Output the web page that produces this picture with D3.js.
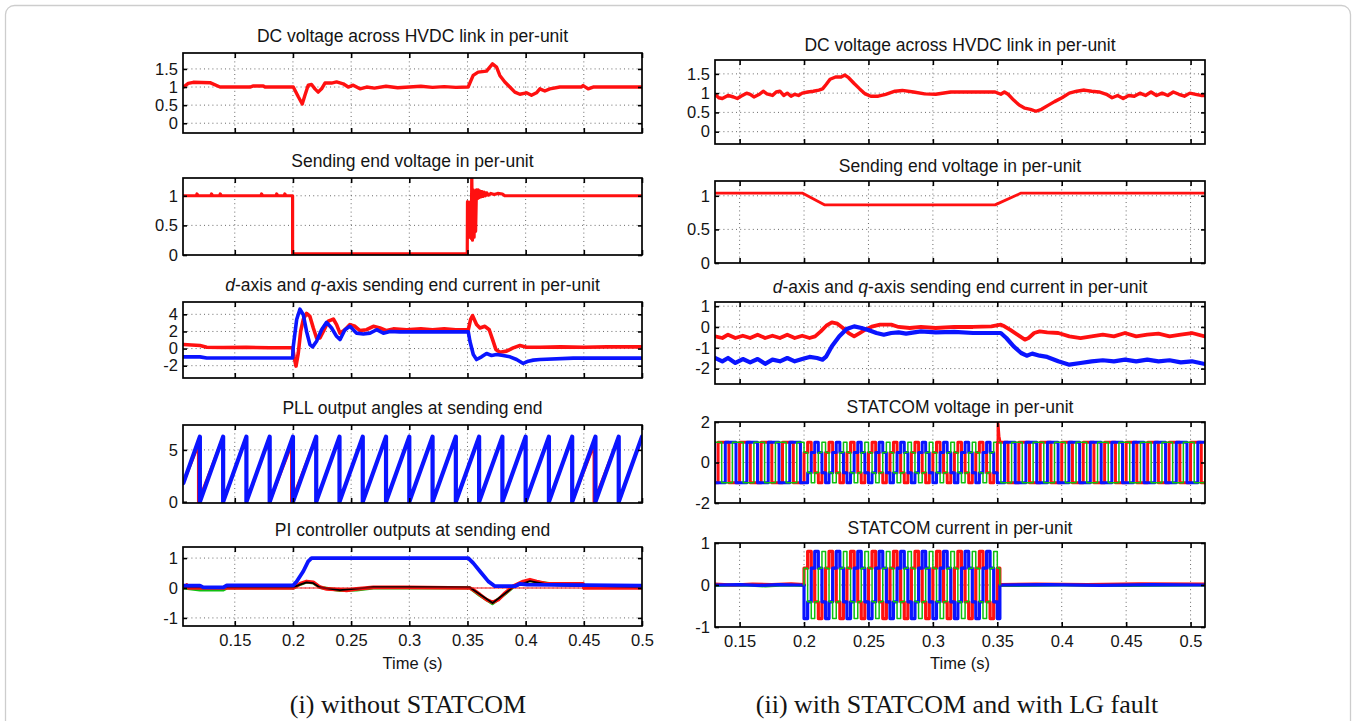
<!DOCTYPE html>
<html lang="en">
<head>
<meta charset="UTF-8">
<title>HVDC sending end waveforms</title>
<script src="https://cdn.jsdelivr.net/npm/d3@7/dist/d3.min.js"></script>
<style>
  body { margin: 0; background: #fff; }
  svg text { font-family: "Liberation Sans", Arial, Helvetica, sans-serif; fill: #141414; }
  svg text.cap { font-family: "Liberation Serif", "Times New Roman", serif; }
  .grid { stroke: #6a6a6a; stroke-width: 1; stroke-dasharray: 1 3.2; }
</style>
</head>
<body>
<script>
// ---------------- data ----------------
const xTicks = [0.15, 0.2, 0.25, 0.3, 0.35, 0.4, 0.45, 0.5];
const xTickLabels = ["0.15", "0.2", "0.25", "0.3", "0.35", "0.4", "0.45", "0.5"];

const titlesLeft = [
  "DC voltage across HVDC link in per-unit",
  "Sending end voltage in per-unit",
  "d-axis and q-axis sending end current in per-unit",
  "PLL output angles at sending end",
  "PI controller outputs at sending end"
];
const titlesRight = [
  "DC voltage across HVDC link in per-unit",
  "Sending end voltage in per-unit",
  "d-axis and q-axis sending end current in per-unit",
  "STATCOM voltage in per-unit",
  "STATCOM current in per-unit"
];
const captions = ["(i) without STATCOM", "(ii) with STATCOM and with LG fault"];
const xLabel = "Time (s)";

const yTicksLeft = [[0, 0.5, 1, 1.5], [0, 0.5, 1], [-2, 0, 2, 4], [0, 5], [-1, 0, 1]];
const yTicksRight = [[0, 0.5, 1, 1.5], [0, 0.5, 1], [-2, -1, 0, 1], [-2, 0, 2], [-1, 0, 1]];

// (i) DC voltage
const dcLeft = [[0.1058,1.00],[0.1100,1.10],[0.1143,1.13],[0.1287,1.12],[0.1373,1.00],[0.1631,1.00],[0.1660,1.03],[0.1674,1.03],[0.1745,1.03],[0.1760,1.00],
  [0.2003,1.00],[0.2046,0.73],[0.2080,0.53],[0.2103,0.77],[0.2131,1.05],[0.2160,1.07],[0.2189,0.95],[0.2217,0.86],[0.2246,0.95],[0.2275,1.11],
  [0.2332,1.11],[0.2375,1.14],[0.2432,1.09],[0.2475,1.00],[0.2518,1.05],[0.2576,0.95],[0.2633,1.00],[0.2700,0.97],[0.2800,1.02],[0.2900,0.98],
  [0.3000,1.00],[0.3100,1.02],[0.3200,0.99],[0.3300,1.01],[0.3400,0.99],[0.3506,1.00],[0.3549,1.32],[0.3592,1.41],[0.3664,1.44],[0.3692,1.55],
  [0.3715,1.64],[0.3750,1.55],[0.3778,1.32],[0.3821,1.14],[0.3864,1.00],[0.3907,0.86],[0.3950,0.80],[0.4007,0.84],[0.4050,0.77],[0.4093,0.84],
  [0.4122,0.95],[0.4165,0.89],[0.4208,0.95],[0.4294,1.00],[0.4480,1.00],[0.4494,1.04],[0.4537,0.95],[0.4580,1.00],[0.4995,1.00]];

// (i) sending end voltage
const sendLeft = [[0.1058,1.0],[0.1170,1.0],[0.1175,1.03],[0.1185,1.0],[0.1295,1.0],[0.1300,1.03],[0.1310,1.0],[0.1370,1.0],[0.1375,1.03],[0.1385,1.0],
  [0.1725,1.0],[0.1730,1.03],[0.1740,1.0],[0.1855,1.0],[0.1860,1.03],[0.1870,1.0],[0.1925,1.0],[0.1930,1.03],[0.1940,1.0],[0.1997,1.0],[0.1997,0.02],
  [0.3498,0.02],[0.3500,0.90],[0.3507,0.35],[0.3513,0.88],[0.3520,0.30],[0.3527,0.90],[0.3533,0.28],[0.3537,1.40],[0.3543,0.25],[0.3550,1.10],
  [0.3557,0.30],[0.3563,1.05],[0.3570,0.40],[0.3577,1.10],[0.3585,0.95],[0.3592,1.10],[0.3600,0.97],[0.3608,1.08],[0.3616,0.98],[0.3625,1.07],
  [0.3635,0.99],[0.3645,1.06],[0.3655,1.00],[0.3665,1.05],[0.3680,1.01],[0.3700,1.04],[0.3730,1.02],[0.3760,1.04],[0.3800,1.03],[0.3820,1.00],[0.5000,1.00]];

// (i) d-axis (red) and q-axis (blue) current
const idLeft = [[0.1058,0.47],[0.1201,0.35],[0.1259,0.15],[0.1400,0.12],[0.1600,0.14],[0.1800,0.10],[0.1997,0.10],[0.2009,-0.9],[0.2026,-2.05],[0.2046,-0.5],
  [0.2066,2.0],[0.2089,3.4],[0.2117,4.1],[0.2146,3.76],[0.2175,2.4],[0.2203,1.24],[0.2232,1.24],[0.2261,2.0],[0.2304,3.2],[0.2347,3.45],
  [0.2375,2.8],[0.2404,1.8],[0.2447,2.2],[0.2490,2.8],[0.2533,2.6],[0.2576,2.1],[0.2633,2.2],[0.2691,2.6],[0.2748,2.4],[0.2805,2.1],
  [0.2863,2.3],[0.2977,2.2],[0.3100,2.3],[0.3200,2.2],[0.3300,2.3],[0.3400,2.2],[0.3507,2.2],[0.3527,3.4],[0.3544,3.84],[0.3578,2.8],
  [0.3607,2.4],[0.3650,2.6],[0.3687,2.2],[0.3716,1.05],[0.3744,-0.1],[0.3779,-0.43],[0.3836,-0.3],[0.3893,0.08],[0.3951,0.35],[0.4008,0.15],
  [0.4123,0.15],[0.4300,0.2],[0.4500,0.15],[0.4700,0.2],[0.4996,0.2]];
const iqLeft = [[0.1058,-0.97],[0.1201,-0.97],[0.1259,-1.1],[0.1997,-1.1],[0.2003,0.27],[0.2032,3.4],[0.2060,4.6],[0.2089,3.95],[0.2117,2.0],[0.2146,0.46],
  [0.2169,0.2],[0.2203,0.85],[0.2246,2.2],[0.2289,3.06],[0.2332,2.4],[0.2375,1.43],[0.2404,1.05],[0.2447,2.2],[0.2490,2.6],[0.2547,1.8],
  [0.2605,1.7],[0.2662,1.8],[0.2719,2.2],[0.2777,1.8],[0.2834,2.0],[0.2920,1.95],[0.3507,1.95],[0.3521,0.85],[0.3550,-0.7],[0.3578,-1.28],
  [0.3621,-0.97],[0.3664,-0.58],[0.3707,-0.81],[0.3750,-0.7],[0.3807,-0.81],[0.3865,-0.97],[0.3922,-1.28],[0.3979,-1.74],[0.4023,-1.47],[0.4066,-1.35],
  [0.4123,-1.28],[0.4409,-1.12],[0.4996,-1.12]];

// (i) PLL angle: wrap instants, start / end samples
const pllWraps = [0.12, 0.14, 0.16, 0.18, 0.20, 0.22, 0.24, 0.26, 0.28, 0.30, 0.32, 0.34, 0.36, 0.38, 0.40, 0.42, 0.44, 0.46, 0.48];
const pllTop = 6.28;
const pllFirst = [0.1058, 1.8];
const pllLast = [0.5, 6.28];
const pllRedWraps = [0.1186, 0.1986, 0.4586];
const pllRedTop = 5.4;

// (i) PI controller outputs
const piBlue = [[0.1058,0.08],[0.1201,0.08],[0.1230,0.02],[0.1402,0.02],[0.1431,0.09],[0.2003,0.09],[0.2032,0.22],[0.2089,0.56],[0.2131,0.89],[0.2160,1.0],
  [0.3507,1.0],[0.3550,0.83],[0.3607,0.56],[0.3679,0.22],[0.3736,0.06],[0.3908,0.06],[0.3951,0.14],[0.4008,0.11],[0.4996,0.08]];
const piRed = [[0.1058,0.0],[0.1087,0.1],[0.1100,0.0],[0.2003,0.0],[0.2060,0.14],[0.2117,0.22],[0.2175,0.19],[0.2232,0.03],[0.2289,-0.03],[0.2404,-0.06],
  [0.2461,-0.08],[0.2547,-0.03],[0.2691,0.02],[0.2977,0.02],[0.3521,0.0],[0.3550,-0.06],[0.3607,-0.22],[0.3664,-0.39],[0.3716,-0.48],[0.3765,-0.39],
  [0.3822,-0.17],[0.3893,0.06],[0.3979,0.22],[0.4037,0.28],[0.4094,0.22],[0.4180,0.14],[0.4495,0.14],[0.4501,0.0],[0.4996,0.0]];
const piGreen = [[0.1058,0.0],[0.1201,-0.06],[0.1402,-0.06],[0.1431,0.0],[0.2003,0.0],[0.2060,0.12],[0.2117,0.2],[0.2175,0.17],[0.2232,0.02],[0.2404,-0.08],
  [0.2547,-0.06],[0.2691,0.0],[0.3521,0.0],[0.3607,-0.25],[0.3716,-0.52],[0.3822,-0.2],[0.3893,0.03],[0.3979,0.2],[0.4037,0.25],[0.4123,0.19],[0.4266,0.11],[0.4996,0.03]];
const piBlack = [[0.1058,0.02],[0.2003,0.02],[0.2060,0.11],[0.2117,0.19],[0.2175,0.16],[0.2232,0.02],[0.2404,-0.07],[0.2691,0.03],[0.3091,0.03],[0.3521,0.02],
  [0.3716,-0.5],[0.3893,0.03],[0.4037,0.23],[0.4209,0.1],[0.4495,0.08],[0.4996,0.02]];
const piRef = [[0.1058,0.0],[0.4996,0.0]];

// (ii) DC voltage
const dcRight = [[0.1309,0.97],[0.1338,0.88],[0.1366,0.86],[0.1410,0.94],[0.1453,0.90],[0.1482,0.86],[0.1510,0.92],[0.1554,1.00],[0.1582,0.97],[0.1611,0.90],
  [0.1654,0.97],[0.1683,1.05],[0.1712,0.98],[0.1755,0.94],[0.1784,1.03],[0.1813,1.05],[0.1842,0.94],[0.1870,1.00],[0.1899,0.92],[0.1928,0.97],
  [0.1957,0.94],[0.1986,1.00],[0.2029,1.03],[0.2072,1.05],[0.2115,1.08],[0.2144,1.11],[0.2173,1.23],[0.2202,1.36],[0.2245,1.42],[0.2288,1.42],
  [0.2317,1.47],[0.2346,1.40],[0.2389,1.25],[0.2432,1.11],[0.2475,0.98],[0.2518,0.92],[0.2576,0.92],[0.2634,0.97],[0.2706,1.05],[0.2763,1.07],
  [0.2850,1.03],[0.2936,0.98],[0.3022,0.97],[0.3138,1.03],[0.3311,1.03],[0.3483,1.03],[0.3527,0.97],[0.3555,1.03],[0.3584,0.97],[0.3627,0.82],
  [0.3670,0.69],[0.3714,0.61],[0.3757,0.58],[0.3800,0.53],[0.3843,0.58],[0.3887,0.67],[0.3944,0.78],[0.4002,0.88],[0.4059,1.00],[0.4117,1.05],
  [0.4175,1.08],[0.4232,1.05],[0.4290,1.03],[0.4347,0.97],[0.4391,0.88],[0.4434,0.94],[0.4477,0.86],[0.4520,0.94],[0.4563,0.92],[0.4607,1.00],
  [0.4650,0.94],[0.4693,1.03],[0.4736,0.94],[0.4779,1.00],[0.4823,0.94],[0.4866,1.03],[0.4909,0.97],[0.4952,0.92],[0.4995,1.00],[0.5039,0.97],
  [0.5081,0.94],[0.5111,0.94]];

// (ii) sending end voltage
const sendRight = [[0.1309,1.04],[0.1986,1.04],[0.2158,0.865],[0.3483,0.865],[0.3685,1.04],[0.5111,1.04]];

// (ii) d-axis (red) and q-axis (blue) current
const idRight = [[0.1309,-0.45],[0.1366,-0.53],[0.1410,-0.37],[0.1467,-0.53],[0.1525,-0.42],[0.1582,-0.53],[0.1640,-0.37],[0.1698,-0.53],[0.1755,-0.42],[0.1813,-0.53],
  [0.1870,-0.37],[0.1928,-0.53],[0.1986,-0.42],[0.2043,-0.53],[0.2086,-0.45],[0.2130,-0.21],[0.2173,0.06],[0.2216,0.22],[0.2259,0.16],[0.2302,-0.05],
  [0.2346,-0.29],[0.2389,-0.45],[0.2432,-0.29],[0.2475,-0.13],[0.2533,0.03],[0.2590,0.11],[0.2677,0.11],[0.2734,0.0],[0.2821,-0.05],[0.2907,0.0],
  [0.3022,-0.05],[0.3166,0.0],[0.3311,0.0],[0.3454,0.03],[0.3527,0.11],[0.3555,0.03],[0.3598,-0.13],[0.3656,-0.37],[0.3714,-0.61],[0.3743,-0.53],
  [0.3786,-0.29],[0.3829,-0.21],[0.3887,-0.26],[0.3973,-0.29],[0.4059,-0.45],[0.4146,-0.53],[0.4232,-0.45],[0.4319,-0.37],[0.4405,-0.45],[0.4491,-0.29],
  [0.4578,-0.45],[0.4664,-0.37],[0.4751,-0.32],[0.4837,-0.45],[0.4924,-0.37],[0.5010,-0.29],[0.5111,-0.45]];
const iqRight = [[0.1309,-1.49],[0.1366,-1.65],[0.1410,-1.49],[0.1467,-1.73],[0.1525,-1.54],[0.1582,-1.70],[0.1640,-1.54],[0.1698,-1.77],[0.1755,-1.57],[0.1813,-1.65],
  [0.1870,-1.49],[0.1928,-1.65],[0.1986,-1.54],[0.2043,-1.44],[0.2101,-1.49],[0.2144,-1.57],[0.2173,-1.41],[0.2216,-0.93],[0.2274,-0.45],[0.2331,-0.10],
  [0.2389,0.03],[0.2446,-0.05],[0.2504,-0.16],[0.2562,-0.29],[0.2619,-0.37],[0.2677,-0.29],[0.2734,-0.26],[0.2792,-0.32],[0.2907,-0.21],[0.3022,-0.26],
  [0.3166,-0.24],[0.3311,-0.29],[0.3483,-0.29],[0.3527,-0.29],[0.3570,-0.53],[0.3627,-0.93],[0.3685,-1.25],[0.3728,-1.38],[0.3771,-1.28],[0.3829,-1.38],
  [0.3887,-1.44],[0.3973,-1.65],[0.4059,-1.81],[0.4146,-1.73],[0.4232,-1.65],[0.4319,-1.60],[0.4405,-1.65],[0.4491,-1.57],[0.4578,-1.65],[0.4664,-1.57],
  [0.4751,-1.65],[0.4837,-1.60],[0.4924,-1.70],[0.5010,-1.65],[0.5111,-1.78]];

// (ii) STATCOM: switching instants (ms) and per-cycle level sequences
const statSteps = [127.8, 130.6, 133.3, 136.1, 138.9, 141.7, 144.4, 147.2,
  150.0, 152.8, 155.6, 158.3, 161.1, 163.9, 166.7, 169.4, 172.2, 175.0, 177.8, 180.6, 183.3, 186.1, 188.9, 191.7, 194.4, 197.2,
  200.0, 202.8, 205.6, 208.3, 211.1, 213.9, 216.7, 219.4, 222.2, 225.0, 227.8, 230.6, 233.3, 236.1, 238.9, 241.7, 244.4, 247.2,
  250.0, 252.8, 255.6, 258.3, 261.1, 263.9, 266.7, 269.4, 272.2, 275.0, 277.8, 280.6, 283.3, 286.1, 288.9, 291.7, 294.4, 297.2,
  300.0, 302.8, 305.6, 308.3, 311.1, 313.9, 316.7, 319.4, 322.2, 325.0, 327.8, 330.6, 333.3, 336.1, 338.9, 341.7, 344.4, 347.2,
  350.0, 352.8, 355.6, 358.3, 361.1, 363.9, 366.7, 369.4, 372.2, 375.0, 377.8, 380.6, 383.3, 386.1, 388.9, 391.7, 394.4, 397.2,
  400.0, 402.8, 405.6, 408.3, 411.1, 413.9, 416.7, 419.4, 422.2, 425.0, 427.8, 430.6, 433.3, 436.1, 438.9, 441.7, 444.4, 447.2,
  450.0, 452.8, 455.6, 458.3, 461.1, 463.9, 466.7, 469.4, 472.2, 475.0, 477.8, 480.6, 483.3, 486.1, 488.9, 491.7, 494.4, 497.2,
  500.0, 502.8, 505.6, 508.3, 511.1];
const faultOn = 200.0, faultOff = 350.0, currentOff = 352.0;
const vNormal = { red: [1, 1, 1, -1, -1, -1], blue: [-1, -1, 1, 1, 1, -1], green: [1, -1, -1, -1, 1, 1] };
const vFault  = { red: [0.5, 1, 0.5, -0.5, -1, -0.5], blue: [-1, -0.5, 0.5, 1, 0.5, -0.5], green: [0.5, -0.5, -1, -0.5, 0.5, 1] };
const iFault  = { red: [0.4, 0.8, 0.4, -0.4, -0.8, -0.4], blue: [-0.8, -0.4, 0.4, 0.8, 0.4, -0.4], green: [0.4, -0.4, -0.8, -0.4, 0.4, 0.8] };
const vSpike = [[0.3503,1.0],[0.3503,1.95],[0.3509,1.9],[0.3516,1.3],[0.3523,1.05]];
const iIdleRed   = [[0.1309,0.02],[0.145,0.0],[0.160,0.02],[0.175,0.01],[0.190,0.03],[0.200,0.01]];
const iIdleBlue  = [[0.1309,0.0],[0.150,0.01],[0.165,-0.01],[0.180,0.01],[0.195,0.0],[0.200,0.0]];
const iIdleGreen = [[0.1309,-0.01],[0.155,0.0],[0.170,-0.02],[0.185,0.0],[0.200,-0.01]];
const iPostRed   = [[0.352,0.01],[0.380,0.02],[0.420,0.01],[0.460,0.03],[0.5111,0.02]];
const iPostBlue  = [[0.352,0.0],[0.390,0.01],[0.430,-0.01],[0.470,0.01],[0.5111,0.0]];
const iPostGreen = [[0.352,-0.01],[0.400,0.0],[0.450,-0.01],[0.5111,0.0]];

// ---------------- layout ----------------
const RED = "#ff1010", BLUE = "#0a14ff", GREEN = "#10c010";
const cols = [
  { x0: 183, x1: 642, dom: [0.1055, 0.5], capX: 408 },
  { x0: 715, x1: 1205, dom: [0.1309, 0.5112], capX: 957 }
];
const rows = [
  [ { top: 53, bottom: 133, dom: [-0.27, 1.94] },
    { top: 178, bottom: 255, dom: [0, 1.3] },
    { top: 302, bottom: 378, dom: [-3.44, 5.44] },
    { top: 425, bottom: 503, dom: [-0.12, 7.4] },
    { top: 547, bottom: 626, dom: [-1.27, 1.37] } ],
  [ { top: 60, bottom: 144, dom: [-0.32, 1.86] },
    { top: 181, bottom: 263, dom: [0, 1.22] },
    { top: 302, bottom: 384, dom: [-2.74, 1.2] },
    { top: 422, bottom: 503, dom: [-2, 2] },
    { top: 543, bottom: 627, dom: [-1, 1] } ]
];

const svg = d3.select("body").append("svg")
  .attr("width", 1356).attr("height", 721);

svg.append("rect")
  .attr("x", 5.5).attr("y", 5.5).attr("width", 1345).attr("height", 760).attr("rx", 9)
  .attr("fill", "none").attr("stroke", "#cdcdcd").attr("stroke-width", 1.3);

let clipCount = 0;
function panel(ci, ri, title, yTicks) {
  const c = cols[ci], r = rows[ci][ri];
  const last = ri === 4;
  const x = d3.scaleLinear().domain(c.dom).range([c.x0, c.x1]);
  const y = d3.scaleLinear().domain(r.dom).range([r.bottom, r.top]);
  const g = svg.append("g");

  // dotted grid
  const gx = xTicks.filter(t => x(t) > c.x0 + 2 && x(t) < c.x1 - 2);
  g.selectAll(null).data(gx).join("line").attr("class", "grid")
    .attr("x1", d => x(d)).attr("x2", d => x(d)).attr("y1", r.top).attr("y2", r.bottom);
  const gy = yTicks.filter(v => y(v) > r.top + 2 && y(v) < r.bottom - 2);
  g.selectAll(null).data(gy).join("line").attr("class", "grid")
    .attr("x1", c.x0).attr("x2", c.x1).attr("y1", d => y(d)).attr("y2", d => y(d));

  // clipped plotting layer
  const id = "clip" + (clipCount++);
  g.append("clipPath").attr("id", id).append("rect")
    .attr("x", c.x0).attr("y", r.top).attr("width", c.x1 - c.x0).attr("height", r.bottom - r.top);
  const plot = g.append("g").attr("clip-path", `url(#${id})`);

  // title
  svg.append("text").attr("x", (c.x0 + c.x1) / 2).attr("y", r.top - (ci === 0 ? 11 : 9))
    .attr("text-anchor", "middle").attr("font-size", 17.5)
    .each(function () {
      const t = d3.select(this);
      const m = title.match(/^([dq])(-axis and )([dq])(.*)$/);
      if (m) {
        t.append("tspan").attr("font-style", "italic").text(m[1]);
        t.append("tspan").text(m[2]);
        t.append("tspan").attr("font-style", "italic").text(m[3]);
        t.append("tspan").text(m[4]);
      } else t.text(title);
    });

  return { x, y, g, plot, c, r, last, yTicks };
}

function finish(p) {
  const { x, y, g, c, r, last, yTicks } = p;
  const style = s => {
    s.select(".domain").remove();
    s.selectAll(".tick line").attr("stroke", "#000").attr("stroke-width", 1.6);
    s.attr("font-size", 16.5).attr("font-family", null);
  };
  g.append("g").attr("transform", `translate(0,${r.bottom})`)
    .call(d3.axisBottom(x).tickValues(xTicks).tickSizeInner(-5).tickSizeOuter(0).tickPadding(8)
      .tickFormat((d, i) => last ? xTickLabels[i] : ""))
    .call(style);
  g.append("g").attr("transform", `translate(0,${r.top})`)
    .call(d3.axisTop(x).tickValues(xTicks).tickSizeInner(-5).tickSizeOuter(0).tickFormat(() => ""))
    .call(style);
  g.append("g").attr("transform", `translate(${c.x0},0)`)
    .call(d3.axisLeft(y).tickValues(yTicks).tickSizeInner(-4).tickSizeOuter(0).tickPadding(5)
      .tickFormat(d => String(d)))
    .call(style);
  g.append("g").attr("transform", `translate(${c.x1},0)`)
    .call(d3.axisRight(y).tickValues(yTicks).tickSizeInner(-4).tickSizeOuter(0).tickFormat(() => ""))
    .call(style);
  g.append("rect").attr("x", c.x0).attr("y", r.top)
    .attr("width", c.x1 - c.x0).attr("height", r.bottom - r.top)
    .attr("fill", "none").attr("stroke", "#000").attr("stroke-width", 1.7);
}

function draw(p, data, color, width, curve) {
  const line = d3.line().x(d => p.x(d[0])).y(d => p.y(d[1])).curve(curve || d3.curveLinear);
  p.plot.append("path").datum(data).attr("d", line)
    .attr("fill", "none").attr("stroke", color).attr("stroke-width", width)
    .attr("stroke-linejoin", "round").attr("stroke-linecap", "round");
}

// PLL sawtooth vertices from wrap instants
function pllSeries(wraps, top, earlyWraps, earlyTop) {
  const pts = [pllFirst];
  wraps.forEach(w => {
    const e = earlyWraps ? earlyWraps.find(v => Math.abs(v - w) < 0.003) : undefined;
    if (e !== undefined) { pts.push([e, earlyTop]); pts.push([e, 0]); }
    else { pts.push([w, top]); pts.push([w, 0]); }
  });
  pts.push(pllLast);
  return pts;
}

// STATCOM staircase series from switching instants and the level sequences
function statSeries(regimes, tEnd) {
  const k0 = statSteps.indexOf(faultOn);
  const pts = [];
  statSteps.forEach((ms, i) => {
    const reg = regimes.find(rg => ms >= rg.from && ms < rg.to);
    if (!reg) return;
    const k = (((i - k0) % 6) + 6) % 6;
    pts.push([ms / 1000, reg.levels[k]]);
  });
  pts.push([tEnd, pts[pts.length - 1][1]]);
  return pts;
}

// ---------------- left column ----------------
let p = panel(0, 0, titlesLeft[0], yTicksLeft[0]);
draw(p, dcLeft, RED, 3.4);
finish(p);

p = panel(0, 1, titlesLeft[1], yTicksLeft[1]);
draw(p, sendLeft, RED, 3.2);
finish(p);

p = panel(0, 2, titlesLeft[2], yTicksLeft[2]);
draw(p, idLeft, RED, 3.6);
draw(p, iqLeft, BLUE, 3.6);
finish(p);

p = panel(0, 3, titlesLeft[3], yTicksLeft[3]);
draw(p, pllSeries(pllWraps, pllTop, pllRedWraps, pllRedTop), RED, 2.6);
draw(p, pllSeries(pllWraps, pllTop), BLUE, 4.2);
finish(p);

p = panel(0, 4, titlesLeft[4], yTicksLeft[4]);
draw(p, piGreen, GREEN, 3.2);
draw(p, piRed, RED, 3.6);
draw(p, piBlack, "#000", 1.8);
draw(p, piRef, RED, 1.2);
draw(p, piBlue, BLUE, 3.8);
finish(p);

// ---------------- right column ----------------
p = panel(1, 0, titlesRight[0], yTicksRight[0]);
draw(p, dcRight, RED, 3.4);
finish(p);

p = panel(1, 1, titlesRight[1], yTicksRight[1]);
draw(p, sendRight, RED, 2.8);
finish(p);

p = panel(1, 2, titlesRight[2], yTicksRight[2]);
draw(p, idRight, RED, 3.8);
draw(p, iqRight, BLUE, 4.2);
finish(p);

p = panel(1, 3, titlesRight[3], yTicksRight[3]);
["red", "blue", "green"].forEach(ph => {
  const col = ph === "red" ? RED : ph === "blue" ? BLUE : GREEN;
  const s = statSeries([
    { from: 0, to: faultOn, levels: vNormal[ph] },
    { from: faultOn, to: faultOff, levels: vFault[ph] },
    { from: faultOff, to: 1000, levels: vNormal[ph] }
  ], 0.5112);
  draw(p, s, col, ph === "green" ? 1.5 : 3, d3.curveStepAfter);
});
draw(p, vSpike, RED, 2.2);
finish(p);

p = panel(1, 4, titlesRight[4], yTicksRight[4]);
[[iIdleGreen, GREEN], [iIdleRed, RED], [iIdleBlue, BLUE], [iPostGreen, GREEN], [iPostRed, RED], [iPostBlue, BLUE]]
  .forEach(([d, col]) => draw(p, d, col, 3.2));
["red", "blue", "green"].forEach(ph => {
  const col = ph === "red" ? RED : ph === "blue" ? BLUE : GREEN;
  const s = statSeries([{ from: faultOn, to: faultOff + 2.7, levels: iFault[ph] }], currentOff / 1000);
  s.unshift([faultOn / 1000, 0]);
  s.push([currentOff / 1000, 0]);
  draw(p, s, col, ph === "green" ? 1.5 : 3.2, d3.curveStepAfter);
});
finish(p);

// ---------------- axis labels and captions ----------------
cols.forEach((c, i) => {
  svg.append("text").attr("x", (c.x0 + c.x1) / 2).attr("y", 669)
    .attr("text-anchor", "middle").attr("font-size", 16.5).text(xLabel);
  svg.append("text").attr("class", "cap").attr("x", c.capX).attr("y", 713)
    .attr("text-anchor", "middle").attr("font-size", 26).text(captions[i]);
});
</script>
</body>
</html>
